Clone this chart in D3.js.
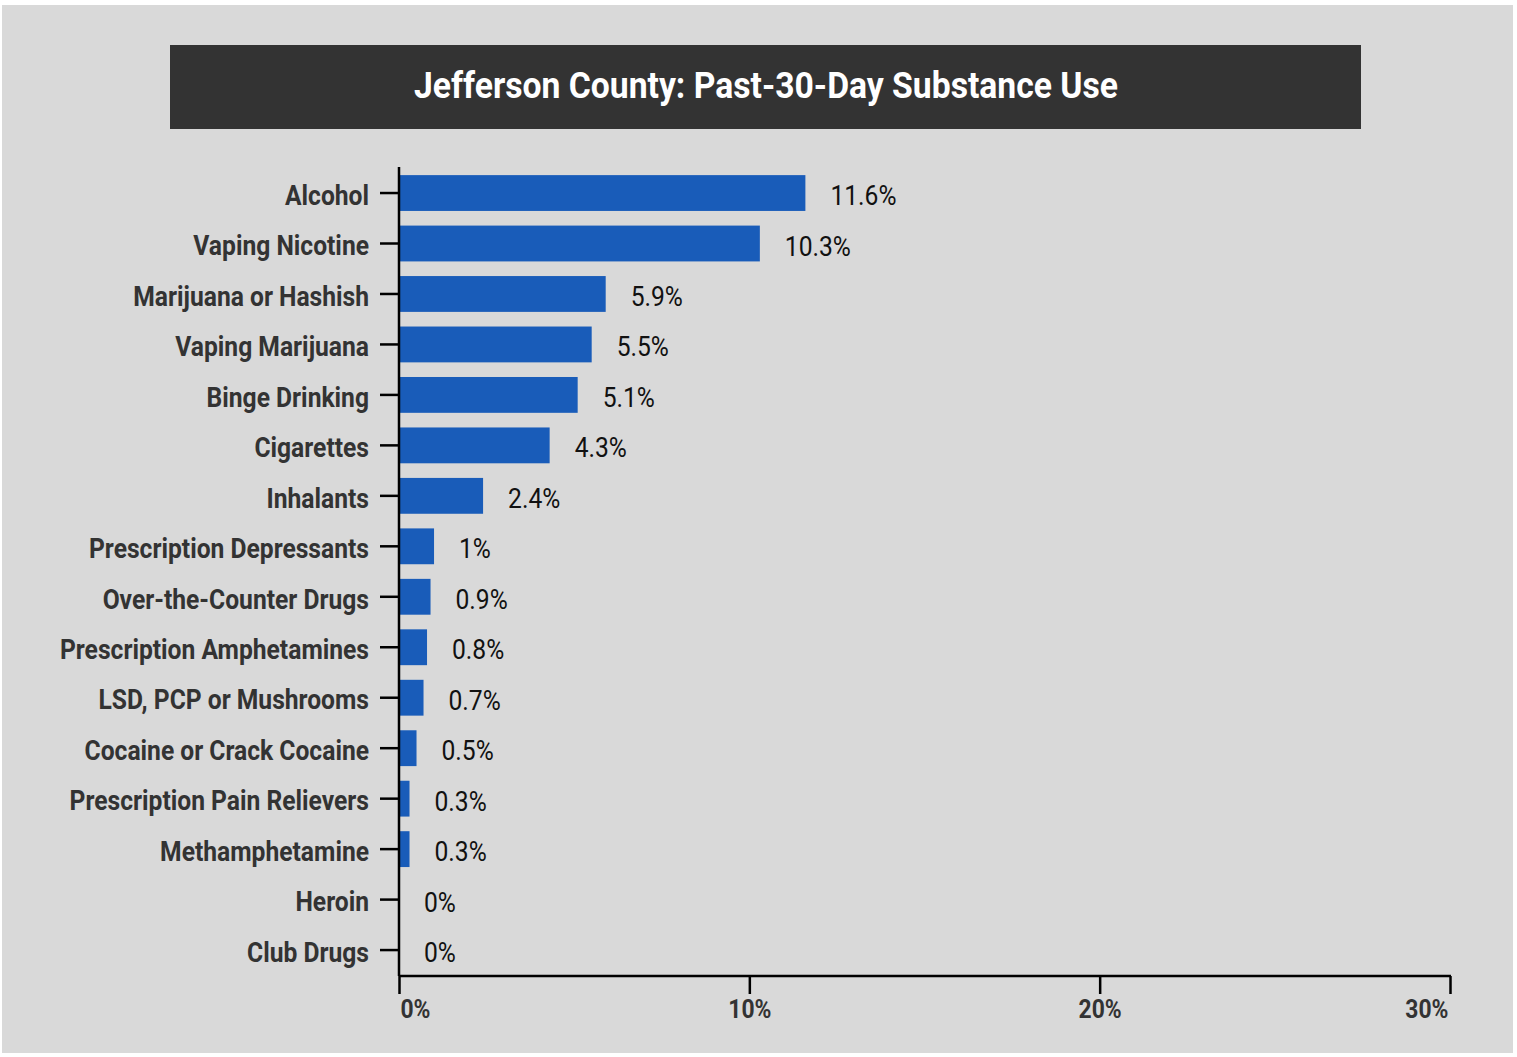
<!DOCTYPE html>
<html>
<head>
<meta charset="utf-8">
<script src="https://cdn.jsdelivr.net/npm/d3@7"></script>
<style>
  body { margin: 0; background: #fff; }
  text { font-family: Roboto, "Noto Sans", sans-serif; }
</style>
</head>
<body>
<div id="chart"></div>
<script>
var categories = ["Alcohol", "Vaping Nicotine", "Marijuana or Hashish", "Vaping Marijuana",
    "Binge Drinking", "Cigarettes", "Inhalants", "Prescription Depressants",
    "Over-the-Counter Drugs", "Prescription Amphetamines", "LSD, PCP or Mushrooms",
    "Cocaine or Crack Cocaine", "Prescription Pain Relievers", "Methamphetamine",
    "Heroin", "Club Drugs"];
var values = [11.6, 10.3, 5.9, 5.5, 5.1, 4.3, 2.4, 1, 0.9, 0.8, 0.7, 0.5, 0.3, 0.3, 0, 0];
var xTicks = [0, 10, 20, 30];
var title = "Jefferson County: Past-30-Day Substance Use";

var W = 1517, H = 1057;
var squeeze = 0.88; // narrow the glyphs a bit, like a condensed face

var svg = d3.select("#chart").append("svg")
    .attr("width", W)
    .attr("height", H);

svg.append("rect")
    .attr("x", 2).attr("y", 5)
    .attr("width", 1511).attr("height", 1048)
    .attr("fill", "#d9d9d9");

// title bar
svg.append("rect")
    .attr("x", 170).attr("y", 45)
    .attr("width", 1191).attr("height", 84)
    .attr("fill", "#333333");
svg.append("text")
    .attr("x", 766).attr("y", 98)
    .attr("text-anchor", "middle")
    .attr("fill", "#fff")
    .style("font-size", "36px")
    .style("font-weight", 700)
    .attr("textLength", 704)
    .attr("lengthAdjust", "spacingAndGlyphs")
    .text(title);

var x = d3.scaleLinear().domain([0, 30]).range([399, 1450]);
var y = d3.scaleBand().domain(categories).range([167.8, 975.3])
    .paddingInner(0.29).paddingOuter(0.145);

// bars
svg.selectAll(".bar")
    .data(values)
    .enter()
    .append("rect")
    .attr("class", "bar")
    .attr("x", x(0))
    .attr("y", function (d, i) { return y(categories[i]); })
    .attr("width", function (d) { return x(d) - x(0); })
    .attr("height", y.bandwidth())
    .attr("fill", "#195cb9");

// value labels
svg.selectAll(".val")
    .data(values)
    .enter()
    .append("text")
    .attr("class", "val")
    .attr("transform", function (d, i) {
        return "translate(" + (x(d) + 25) + "," + (y(categories[i]) + y.bandwidth() / 2) + ") scale(" + squeeze + ",1)";
    })
    .attr("dy", "0.43em")
    .attr("fill", "#111")
    .style("font-size", "28px")
    .text(function (d) { return d + "%"; });

// left axis
var yAxis = svg.append("g")
    .attr("transform", "translate(399,0)")
    .call(d3.axisLeft(y).tickSize(19).tickPadding(11).tickSizeOuter(0));
yAxis.select(".domain").attr("stroke", "#000").attr("stroke-width", 2.5)
    .attr("d", "M0,167V976");
yAxis.selectAll(".tick line").attr("stroke", "#000").attr("stroke-width", 2.5);
yAxis.selectAll(".tick text")
    .attr("x", -30 / squeeze)
    .attr("dy", "0.42em")
    .attr("transform", "scale(" + squeeze + ",1)")
    .attr("fill", "#333")
    .style("font-size", "28px")
    .style("font-weight", 700)
    .style("font-family", "Roboto, sans-serif");

// bottom axis
var xAxis = svg.append("g")
    .attr("transform", "translate(0,976)")
    .call(d3.axisBottom(x).tickValues(xTicks).tickSize(18).tickPadding(6)
        .tickSizeOuter(0).tickFormat(function (d) { return d + "%"; }));
xAxis.select(".domain").attr("stroke", "#000").attr("stroke-width", 2.5)
    .attr("d", "M399,0H1451");
xAxis.selectAll(".tick line").attr("stroke", "#000").attr("stroke-width", 2.5);
xAxis.selectAll(".tick text")
    .attr("text-anchor", function (d, i) {
        return i === 0 ? "start" : (i === xTicks.length - 1 ? "end" : "middle");
    })
    .attr("x", function (d, i) {
        return (i === 0 ? 1 : (i === xTicks.length - 1 ? -2 : 0)) / squeeze;
    })
    .attr("transform", "scale(" + squeeze + ",1)")
    .attr("fill", "#333")
    .style("font-size", "26px")
    .style("font-weight", 700)
    .style("font-family", "Roboto, sans-serif");
</script>
</body>
</html>
